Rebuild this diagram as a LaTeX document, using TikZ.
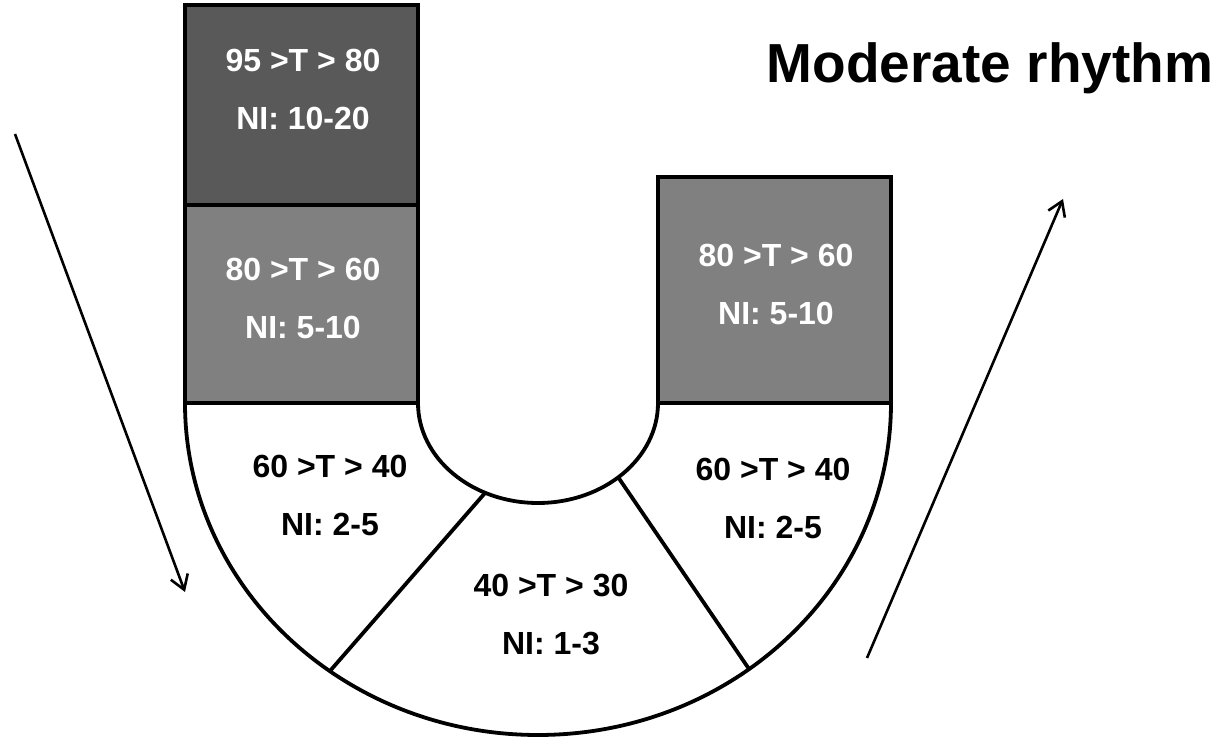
\documentclass[tikz,border=0pt]{standalone}
\usepackage{fontspec}
\setmainfont{Liberation Sans}
\usepackage{tikz}
\usetikzlibrary{arrows.meta}

\definecolor{tempdark}{RGB}{89,89,89}
\definecolor{tempmid}{RGB}{128,128,128}

\begin{document}
\begin{tikzpicture}[x=1pt,y=1pt,
        zone/.style={line width=3.8pt, line join=miter},
        lbl/.style={align=center, font=\fontsize{32}{58}\selectfont\bfseries},
        >={Straight Barb[length=14pt,width=18pt]}]
                \useasboundingbox (0,0) rectangle (1219,739);

                % the U band
                \filldraw[zone, fill=white] (185,336) arc (180:360:353 and 332) -- (658,336) arc (0:-180:120 and 100) -- cycle;

                \coordinate (lin) at (485,246);
                \coordinate (lout) at (330,68);
                \coordinate (rin) at (618,262);
                \coordinate (rout) at (749,70);
                \draw[zone] (lin) -- (lout);
                \draw[zone] (rin) -- (rout);

                % the boxes on top
                \filldraw[zone, fill=tempmid] (185,336) rectangle (418,534);
                \filldraw[zone, fill=tempdark] (185,534) rectangle (418,734);
                \filldraw[zone, fill=tempmid] (658,336) rectangle (891,562);

                \node[lbl, white] (hotl) at (303,650) {95 >T > 80\\NI: 10-20};
                \node[lbl, white] (warml) at (303,441) {80 >T > 60\\NI: 5-10};
                \node[lbl, white] (warmr) at (776,455) {80 >T > 60\\NI: 5-10};
                \node[lbl] (mildl) at (330,244) {60 >T > 40\\NI: 2-5};
                \node[lbl] (low) at (551,124) {40 >T > 30\\NI: 1-3};
                \node[lbl] (mildr) at (773,241) {60 >T > 40\\NI: 2-5};

                \node[font=\fontsize{55}{60}\selectfont\bfseries, anchor=base] (title) at (990,656) {Moderate rhythm};

                % arrows
                \coordinate (dstart) at (15,605);
                \coordinate (dend) at (185,147);
                \coordinate (ustart) at (867,81);
                \coordinate (uend) at (1063,540);
                \draw[->, line width=2.6pt] (dstart) -- (dend);
                \draw[->, line width=2.6pt] (ustart) -- (uend);
\end{tikzpicture}
\end{document}
